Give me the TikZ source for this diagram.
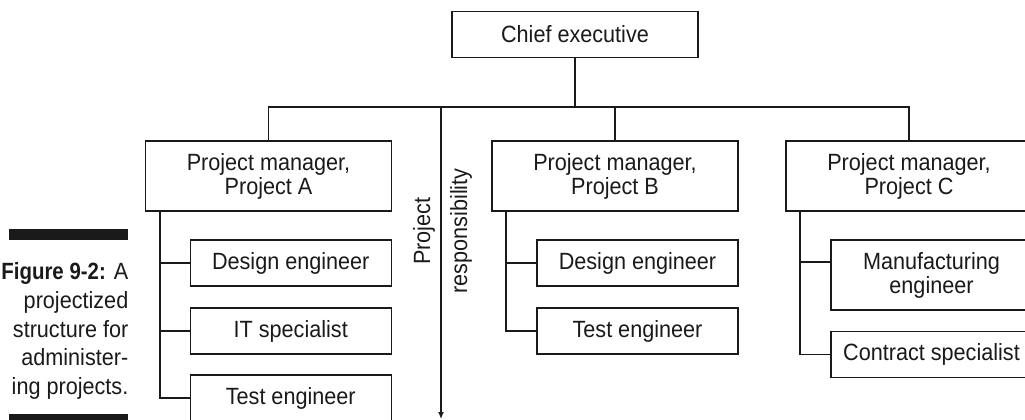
\documentclass[tikz,border=0pt]{standalone}
\usepackage{fontspec}
\setmainfont{Liberation Sans}[FakeStretch=0.92, BoldFeatures={FakeStretch=0.87}]
\usetikzlibrary{arrows.meta,calc,positioning}
\definecolor{ink}{HTML}{1A1A1A}

\begin{document}
\begin{tikzpicture}[
  x=1pt,
  y=-1pt,
  >={Latex[length=7pt,width=6pt]},
  font=\fontsize{23.5}{24}\selectfont,
  every node/.style={text=ink},
  box/.style={draw=ink, line width=1.3pt, fill=white, inner sep=0pt,
              align=center, minimum width=246pt, minimum height=46pt},
  headbox/.style={box, minimum height=70pt},
  subbox/.style={box, minimum width=201pt},
  wire/.style={draw=ink, line width=1.3pt},
  resp/.style={->, draw=ink, line width=1.3pt},
  caption/.style={align=right, inner sep=0pt,
                  font=\fontsize{23.5}{28.7}\selectfont},
]

\useasboundingbox (0,0) rectangle (1025,420);
\clip (0,0) rectangle (1025,420);

% Top of the hierarchy
\node[box] (chief) at (575,34.5) {Chief executive};
\coordinate (bus) at (575,107);

\node[headbox] (pma) at (268.5,176) {Project manager,\\Project A};
\node[headbox] (pmb) at (615,176) {Project manager,\\Project B};
\node[headbox] (pmc) at (909,176) {Project manager,\\Project C};

\draw[wire] (chief.south) -- (bus);
\draw[wire] (pma.north) |- (bus) -| (pmc.north);
\draw[wire] (pmb.north) -- (pmb.north |- bus);

% Project A staff
\node[subbox] (desa) at (290.75,263) {Design engineer};
\node[subbox] (ita) at (290.75,331) {IT specialist};
\node[subbox] (testa) at (290.75,398) {Test engineer};
\coordinate (trunka) at (160,211);
\draw[wire] (trunka) |- (testa.west);
\foreach \n in {desa,ita}
  \draw[wire] (trunka |- \n.west) -- (\n.west);

% Project B staff
\node[subbox] (desb) at (637.5,263) {Design engineer};
\node[subbox] (testb) at (637.5,331) {Test engineer};
\coordinate (trunkb) at (506,211);
\draw[wire] (trunkb) |- (testb.west);
\draw[wire] (trunkb |- desb.west) -- (desb.west);

% Project C staff: the upper branch meets the tall box above its middle
\node[subbox, minimum height=70pt] (mfgc) at (931.5,275) {Manufacturing\\engineer};
\node[subbox] (contc) at (931.5,354.7) {Contract specialist};
\coordinate (trunkc) at (800,211);
\coordinate (mfgtap) at ([yshift=13pt]mfgc.west);
\draw[wire] (trunkc) |- (contc.west);
\draw[wire] (trunkc |- mfgtap) -- (mfgtap);

% Responsibility arrow
\coordinate (respstart) at (441,107);
\coordinate (respend) at (441,419);
\draw[resp] (respstart) -- (respend);
\node[rotate=90, align=center, inner sep=0pt,
      font=\fontsize{23.5}{37}\selectfont] (resplabel) at (442.5,231) {Project\\responsibility};

% Side caption
\fill[ink] (9.3,229.3) rectangle (128.3,240);
\fill[ink] (9.3,414) rectangle (128.3,425);
\node[caption, anchor=east] (figcap) at (128.5,331) {\textbf{Figure 9-2:} A\\projectized\\structure for\\administer-\\ing projects.};

\end{tikzpicture}
\end{document}
